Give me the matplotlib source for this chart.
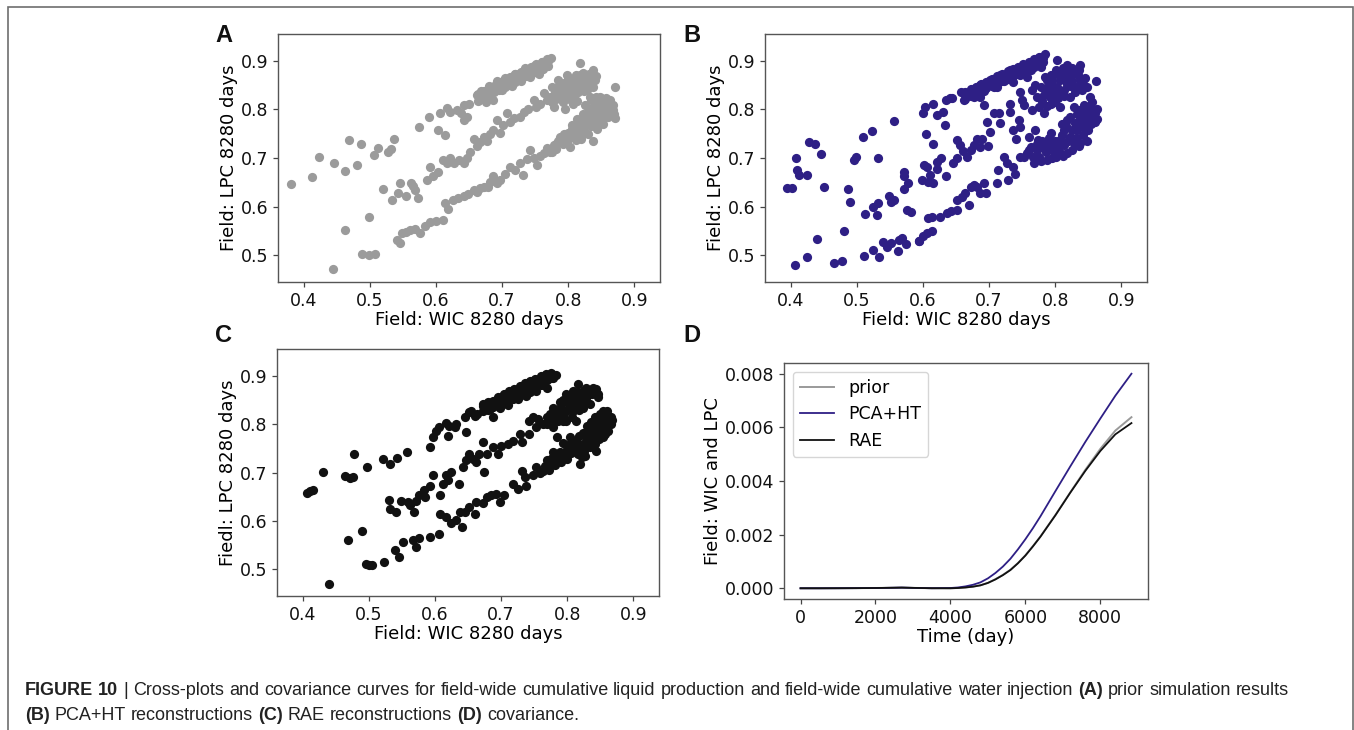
import matplotlib
matplotlib.use('Agg')
import matplotlib.pyplot as plt
from matplotlib.patches import Rectangle

plt.rcParams['font.family'] = ['DejaVu Sans']

# ---------------- data ----------------
A_points = [
    # isolated / left
    (0.380,0.646),(0.412,0.660),(0.423,0.703),(0.446,0.689),(0.463,0.674),(0.468,0.736),
    (0.480,0.686),(0.486,0.729),(0.506,0.706),(0.513,0.720),(0.528,0.712),(0.532,0.718),
    (0.537,0.740),(0.520,0.636),(0.534,0.614),(0.542,0.627),(0.546,0.648),(0.554,0.621),
    (0.562,0.648),(0.569,0.634),(0.573,0.617),(0.566,0.643),(0.463,0.552),(0.498,0.579),
    (0.444,0.471),(0.488,0.502),(0.498,0.500),(0.508,0.503),
    # upper arm
    (0.575,0.763),(0.590,0.785),(0.603,0.758),(0.606,0.792),(0.613,0.748),(0.616,0.802),
    (0.622,0.795),(0.632,0.799),(0.638,0.792),(0.642,0.809),(0.642,0.778),(0.647,0.785),
    (0.650,0.812),(0.662,0.829),(0.665,0.820),(0.670,0.832),(0.674,0.825),(0.678,0.840),
    (0.682,0.835),(0.686,0.846),(0.690,0.840),(0.694,0.852),(0.698,0.846),(0.702,0.858),
    (0.706,0.850),(0.710,0.862),(0.714,0.856),(0.718,0.866),(0.722,0.860),(0.726,0.872),
    (0.730,0.866),(0.734,0.876),(0.738,0.870),(0.742,0.880),(0.746,0.875),(0.750,0.886),
    (0.754,0.879),(0.758,0.890),(0.762,0.884),(0.766,0.896),(0.770,0.900),(0.774,0.905),
    (0.770,0.890),(0.760,0.898),(0.748,0.890),(0.735,0.885),(0.720,0.872),(0.705,0.865),
    (0.692,0.858),(0.680,0.848),(0.668,0.838),(0.700,0.840),(0.715,0.848),(0.728,0.858),
    (0.742,0.866),(0.756,0.872),(0.687,0.819),(0.675,0.815),
    (0.664,0.818),(0.664,0.832),(0.672,0.824),(0.672,0.838),(0.680,0.829),(0.680,0.843),
    (0.688,0.835),(0.688,0.849),(0.696,0.840),(0.696,0.855),(0.704,0.846),(0.704,0.861),
    (0.712,0.851),(0.712,0.866),(0.720,0.857),(0.720,0.872),(0.728,0.862),(0.728,0.877),
    (0.736,0.868),(0.736,0.883),(0.744,0.873),(0.744,0.888),(0.752,0.879),(0.752,0.893),
    (0.760,0.884),(0.760,0.898),(0.768,0.889),(0.768,0.903),
    # middle arm
    (0.586,0.655),(0.591,0.682),(0.596,0.662),(0.603,0.672),(0.611,0.696),(0.617,0.690),
    (0.622,0.700),(0.627,0.689),(0.635,0.695),(0.642,0.690),(0.647,0.699),(0.652,0.712),
    (0.657,0.740),(0.662,0.725),(0.667,0.732),(0.672,0.744),(0.677,0.735),(0.682,0.750),
    (0.687,0.758),(0.692,0.778),(0.697,0.752),(0.702,0.768),(0.707,0.792),(0.712,0.775),
    (0.718,0.782),(0.727,0.785),(0.733,0.795),(0.740,0.800),(0.748,0.819),(0.752,0.805),
    (0.758,0.812),(0.763,0.833),(0.768,0.820),(0.773,0.826),(0.778,0.805),(0.780,0.835),
    (0.785,0.845),(0.788,0.828),(0.790,0.855),(0.792,0.815),(0.795,0.838),(0.798,0.871),
    (0.800,0.850),(0.803,0.830),(0.805,0.862),(0.808,0.812),(0.810,0.845),(0.812,0.870),
    (0.813,0.853),(0.815,0.835),(0.818,0.895),(0.818,0.860),(0.820,0.845),(0.823,0.874),
    (0.825,0.855),(0.828,0.840),(0.830,0.866),(0.833,0.826),(0.835,0.852),(0.838,0.881),
    (0.840,0.860),(0.785,0.860),(0.795,0.800),(0.775,0.845),
    (0.776,0.815),(0.782,0.822),(0.788,0.838),(0.794,0.828),(0.796,0.848),(0.802,0.840),
    (0.804,0.820),(0.806,0.855),(0.810,0.832),(0.812,0.860),(0.816,0.848),(0.818,0.870),
    (0.822,0.856),(0.824,0.838),(0.826,0.866),(0.830,0.850),(0.832,0.872),(0.836,0.860),
    (0.838,0.845),(0.842,0.868),(0.800,0.862),(0.790,0.845),(0.784,0.832),(0.814,0.818),
    # lower arm
    (0.541,0.531),(0.545,0.526),(0.548,0.545),(0.555,0.548),(0.561,0.552),(0.568,0.555),
    (0.576,0.545),(0.583,0.560),(0.591,0.569),(0.600,0.570),(0.611,0.573),(0.614,0.607),
    (0.618,0.595),(0.626,0.614),(0.634,0.618),(0.642,0.621),(0.648,0.625),(0.657,0.634),
    (0.662,0.630),(0.667,0.638),(0.672,0.641),(0.678,0.640),(0.682,0.650),(0.687,0.662),
    (0.692,0.648),(0.697,0.655),(0.705,0.668),(0.712,0.682),(0.720,0.675),(0.727,0.689),
    (0.732,0.665),(0.738,0.698),(0.743,0.716),(0.748,0.700),(0.753,0.686),(0.758,0.705),
    (0.763,0.710),(0.768,0.720),(0.772,0.712),(0.778,0.727),(0.782,0.718),(0.785,0.735),
    (0.788,0.744),(0.792,0.728),(0.796,0.740),(0.800,0.752),(0.803,0.723),(0.806,0.760),
    (0.810,0.745),(0.813,0.751),(0.816,0.770),(0.818,0.758),(0.820,0.740),(0.823,0.778),
    (0.826,0.765),(0.828,0.790),(0.830,0.750),(0.833,0.775),(0.835,0.800),(0.838,0.799),
    (0.838,0.734),(0.840,0.785),(0.843,0.760),(0.845,0.805),(0.846,0.775),(0.848,0.812),
    (0.848,0.826),(0.850,0.790),(0.853,0.770),(0.855,0.800),(0.857,0.815),(0.860,0.785),
    (0.862,0.805),(0.864,0.819),(0.866,0.795),(0.868,0.810),(0.871,0.782),(0.871,0.847),
    (0.825,0.810),(0.835,0.820),(0.842,0.825),
    (0.776,0.712),(0.782,0.728),(0.790,0.735),(0.794,0.750),(0.798,0.730),(0.802,0.742),
    (0.806,0.768),(0.808,0.755),(0.812,0.738),(0.814,0.780),(0.818,0.765),(0.822,0.790),
    (0.824,0.752),(0.828,0.778),(0.832,0.800),(0.834,0.765),(0.836,0.788),(0.840,0.812),
    (0.842,0.795),(0.844,0.770),(0.846,0.818),(0.850,0.803),(0.852,0.782),(0.854,0.812),
    (0.856,0.792),(0.858,0.824),(0.860,0.800),(0.862,0.815),(0.864,0.790),(0.866,0.808),
    (0.868,0.798),(0.870,0.790),
]

B_points = [
    # left scattered
    (0.394,0.639),(0.402,0.639),(0.408,0.701),(0.409,0.675),(0.412,0.665),(0.425,0.665),
    (0.428,0.733),(0.437,0.728),(0.446,0.708),(0.450,0.640),(0.407,0.479),(0.424,0.497),
    (0.439,0.534),(0.465,0.484),(0.478,0.488),(0.481,0.549),(0.486,0.636),(0.490,0.610),
    (0.495,0.696),(0.498,0.703),(0.510,0.744),(0.523,0.755),(0.532,0.701),(0.556,0.776),
    (0.513,0.584),(0.525,0.600),(0.530,0.583),(0.532,0.607),(0.511,0.499),(0.525,0.511),
    (0.534,0.497),(0.540,0.528),(0.548,0.621),(0.552,0.610),(0.556,0.613),(0.545,0.518),
    (0.552,0.525),(0.563,0.532),(0.568,0.535),(0.562,0.508),(0.575,0.523),(0.572,0.662),
    (0.572,0.672),(0.571,0.636),(0.578,0.648),(0.576,0.593),(0.582,0.588),(0.594,0.529),
    # middle arm
    (0.598,0.655),(0.601,0.686),(0.606,0.682),(0.608,0.650),(0.611,0.665),(0.615,0.649),
    (0.621,0.677),(0.622,0.692),(0.628,0.701),(0.635,0.664),(0.646,0.689),(0.651,0.699),
    (0.652,0.738),(0.656,0.727),(0.661,0.714),(0.666,0.703),(0.672,0.716),(0.677,0.727),
    (0.682,0.740),(0.687,0.723),(0.689,0.740),(0.699,0.725),(0.697,0.775),(0.702,0.754),
    (0.707,0.792),(0.715,0.793),(0.717,0.771),(0.737,0.758),(0.741,0.740),(0.745,0.778),
    (0.747,0.764),(0.760,0.744),(0.770,0.758),(0.774,0.737),(0.732,0.812),(0.731,0.795),
    (0.753,0.809),(0.765,0.799),(0.605,0.749),(0.615,0.729),(0.634,0.767),(0.693,0.809),
    # upper arm
    (0.600,0.792),(0.603,0.804),(0.615,0.812),(0.622,0.788),(0.631,0.795),(0.635,0.819),
    (0.641,0.823),(0.644,0.823),(0.657,0.836),(0.662,0.819),(0.667,0.830),(0.672,0.836),
    (0.677,0.826),(0.682,0.842),(0.687,0.850),(0.687,0.826),(0.692,0.838),(0.697,0.853),
    (0.702,0.860),(0.707,0.845),(0.712,0.847),(0.712,0.862),(0.717,0.871),(0.722,0.858),
    (0.727,0.868),(0.732,0.881),(0.737,0.857),(0.737,0.872),(0.742,0.884),(0.747,0.888),
    (0.747,0.870),(0.752,0.878),(0.757,0.867),(0.757,0.890),(0.763,0.898),(0.763,0.880),
    (0.768,0.892),(0.773,0.903),(0.778,0.908),(0.778,0.888),(0.782,0.898),(0.785,0.914),
    (0.785,0.867),(0.747,0.836),(0.765,0.840),(0.750,0.819),(0.770,0.850),
    (0.664,0.822),(0.664,0.836),(0.672,0.828),(0.672,0.842),(0.680,0.832),(0.680,0.846),
    (0.688,0.838),(0.688,0.852),(0.696,0.843),(0.696,0.857),(0.704,0.848),(0.704,0.862),
    (0.712,0.853),(0.712,0.868),(0.720,0.858),(0.720,0.873),(0.728,0.863),(0.728,0.878),
    (0.736,0.868),(0.736,0.883),(0.744,0.873),(0.744,0.888),(0.752,0.878),(0.752,0.893),
    (0.760,0.884),(0.760,0.898),(0.768,0.888),(0.768,0.903),(0.776,0.895),(0.776,0.908),
    (0.782,0.905),
    # middle arm top cluster
    (0.803,0.901),(0.818,0.891),(0.838,0.892),(0.801,0.881),(0.788,0.860),(0.778,0.847),
    (0.773,0.826),(0.775,0.805),(0.783,0.792),(0.793,0.812),(0.808,0.805),(0.823,0.826),
    (0.833,0.847),(0.838,0.860),(0.813,0.871),(0.823,0.867),(0.803,0.847),(0.793,0.840),
    (0.808,0.860),(0.828,0.874),(0.798,0.828),(0.813,0.840),(0.818,0.852),(0.828,0.845),
    (0.783,0.830),(0.793,0.870),(0.812,0.885),(0.826,0.885),(0.805,0.823),(0.790,0.850),
    (0.780,0.818),(0.786,0.840),(0.792,0.826),(0.796,0.858),(0.800,0.872),(0.806,0.838),
    (0.810,0.875),(0.814,0.828),(0.816,0.862),(0.820,0.880),(0.822,0.848),(0.826,0.858),
    (0.830,0.835),(0.834,0.870),(0.836,0.880),(0.842,0.852),(0.845,0.865),(0.800,0.815),
    (0.788,0.806),
    # lower arm
    (0.594,0.529),(0.600,0.540),(0.606,0.545),(0.607,0.576),(0.613,0.579),(0.614,0.549),
    (0.626,0.579),(0.636,0.586),(0.643,0.590),(0.651,0.593),(0.651,0.613),(0.659,0.620),
    (0.664,0.627),(0.669,0.603),(0.672,0.641),(0.677,0.645),(0.682,0.641),(0.687,0.627),
    (0.692,0.648),(0.696,0.627),(0.712,0.648),(0.713,0.675),(0.722,0.703),(0.727,0.689),
    (0.729,0.655),(0.737,0.682),(0.740,0.668),(0.747,0.703),(0.753,0.703),(0.761,0.716),
    (0.758,0.710),(0.768,0.689),(0.775,0.703),(0.783,0.720),(0.788,0.730),(0.793,0.751),
    (0.801,0.703),(0.803,0.723),(0.813,0.758),(0.818,0.778),(0.823,0.744),(0.828,0.730),
    (0.833,0.758),(0.838,0.778),(0.843,0.792),(0.848,0.805),(0.853,0.826),(0.858,0.785),
    (0.863,0.781),(0.862,0.858),(0.838,0.730),(0.846,0.758),(0.851,0.771),(0.858,0.799),
    (0.841,0.840),(0.848,0.847),(0.828,0.805),(0.818,0.710),(0.808,0.737),(0.788,0.696),
    (0.773,0.716),(0.763,0.723),(0.798,0.712),(0.810,0.770),(0.833,0.790),(0.853,0.790),
    (0.766,0.702),(0.772,0.728),(0.778,0.694),(0.780,0.735),(0.786,0.712),(0.790,0.742),
    (0.794,0.722),(0.796,0.700),(0.800,0.735),(0.806,0.715),(0.810,0.748),(0.814,0.726),
    (0.816,0.765),(0.820,0.735),(0.822,0.785),(0.826,0.758),(0.830,0.772),(0.832,0.742),
    (0.836,0.798),(0.840,0.765),(0.842,0.748),(0.844,0.810),(0.846,0.780),(0.850,0.758),
    (0.852,0.805),(0.855,0.770),(0.856,0.815),(0.860,0.792),(0.860,0.775),(0.864,0.800),
    (0.848,0.735),(0.836,0.725),(0.826,0.716),(0.812,0.705),
]

C_points = [
    # left scattered
    (0.406,0.658),(0.411,0.662),(0.416,0.663),(0.431,0.702),(0.464,0.692),(0.472,0.689),
    (0.476,0.690),(0.477,0.738),(0.497,0.711),(0.468,0.560),(0.489,0.579),(0.439,0.469),
    (0.496,0.512),(0.500,0.509),(0.504,0.508),(0.523,0.516),(0.522,0.728),(0.532,0.718),
    (0.542,0.730),(0.558,0.743),(0.530,0.644),(0.532,0.625),(0.541,0.618),(0.549,0.642),
    (0.559,0.639),(0.562,0.632),(0.569,0.618),(0.571,0.642),(0.576,0.653),(0.584,0.663),
    (0.585,0.649),(0.592,0.673),
    # middle arm
    (0.597,0.694),(0.607,0.653),(0.612,0.677),(0.617,0.694),(0.619,0.684),(0.624,0.701),
    (0.637,0.677),(0.642,0.711),(0.647,0.725),(0.652,0.738),(0.657,0.728),(0.662,0.721),
    (0.667,0.738),(0.674,0.702),(0.672,0.762),(0.679,0.738),(0.688,0.752),(0.695,0.738),
    (0.700,0.755),(0.710,0.759),(0.718,0.766),(0.728,0.779),(0.731,0.762),(0.743,0.807),
    (0.743,0.779),(0.748,0.814),(0.753,0.793),(0.756,0.810),(0.763,0.800),(0.769,0.814),
    (0.779,0.834),(0.785,0.774),(0.789,0.845),(0.794,0.807),(0.799,0.862),(0.804,0.848),
    (0.809,0.868),(0.814,0.855),(0.819,0.841),(0.824,0.862),(0.829,0.875),(0.834,0.865),
    (0.839,0.875),(0.844,0.872),(0.847,0.856),(0.829,0.848),(0.799,0.827),(0.794,0.815),
    (0.809,0.827),(0.784,0.814),(0.774,0.821),(0.779,0.793),(0.769,0.800),(0.816,0.883),
    (0.789,0.824),(0.814,0.807),(0.799,0.807),(0.824,0.834),(0.804,0.838),(0.819,0.858),
    (0.778,0.810),(0.784,0.828),(0.790,0.836),(0.796,0.822),(0.800,0.845),(0.806,0.856),
    (0.808,0.815),(0.812,0.842),(0.816,0.866),(0.818,0.830),(0.822,0.850),(0.826,0.870),
    (0.830,0.858),(0.834,0.842),(0.838,0.862),(0.842,0.868),(0.846,0.862),(0.794,0.850),
    (0.786,0.806),
    # upper arm
    (0.592,0.752),(0.597,0.773),(0.602,0.786),(0.606,0.793),(0.617,0.803),(0.619,0.775),
    (0.622,0.797),(0.630,0.793),(0.632,0.800),(0.647,0.783),(0.645,0.814),(0.651,0.824),
    (0.655,0.827),(0.660,0.817),(0.672,0.838),(0.683,0.831),(0.688,0.814),(0.688,0.848),
    (0.678,0.835),(0.693,0.845),(0.698,0.834),(0.703,0.858),(0.708,0.850),(0.713,0.862),
    (0.718,0.869),(0.718,0.851),(0.723,0.862),(0.728,0.872),(0.733,0.879),(0.733,0.865),
    (0.738,0.858),(0.740,0.874),(0.745,0.884),(0.748,0.889),(0.750,0.872),(0.753,0.869),
    (0.756,0.885),(0.760,0.892),(0.764,0.895),(0.765,0.880),(0.769,0.875),(0.770,0.890),
    (0.774,0.902),(0.778,0.896),(0.783,0.901),(0.776,0.906),(0.760,0.880),(0.744,0.866),
    (0.700,0.842),(0.710,0.840),(0.725,0.852),
    (0.664,0.820),(0.672,0.826),(0.672,0.842),(0.680,0.830),(0.680,0.846),(0.688,0.836),
    (0.696,0.842),(0.696,0.856),(0.704,0.846),(0.704,0.862),(0.712,0.852),(0.712,0.868),
    (0.720,0.857),(0.720,0.873),(0.728,0.862),(0.728,0.878),(0.736,0.868),(0.736,0.884),
    (0.744,0.874),(0.744,0.888),(0.752,0.880),(0.752,0.893),(0.760,0.886),(0.760,0.899),
    (0.768,0.890),(0.768,0.903),(0.776,0.895),
    # lower arm
    (0.540,0.540),(0.546,0.526),(0.551,0.557),(0.567,0.560),(0.571,0.547),(0.576,0.564),
    (0.592,0.567),(0.606,0.574),(0.607,0.615),(0.617,0.608),(0.624,0.595),(0.632,0.601),
    (0.638,0.618),(0.641,0.588),(0.646,0.618),(0.651,0.629),(0.660,0.615),(0.662,0.639),
    (0.673,0.636),(0.678,0.649),(0.685,0.653),(0.693,0.656),(0.698,0.639),(0.705,0.653),
    (0.718,0.677),(0.725,0.666),(0.732,0.704),(0.736,0.690),(0.738,0.673),(0.748,0.694),
    (0.753,0.711),(0.763,0.704),(0.774,0.718),(0.784,0.725),(0.794,0.731),(0.799,0.745),
    (0.809,0.752),(0.819,0.718),(0.817,0.738),(0.824,0.759),(0.829,0.773),(0.834,0.786),
    (0.839,0.793),(0.844,0.807),(0.849,0.821),(0.854,0.827),(0.860,0.827),(0.864,0.807),
    (0.862,0.786),(0.844,0.745),(0.834,0.752),(0.854,0.773),(0.839,0.766),(0.857,0.800),
    (0.849,0.786),(0.814,0.766),(0.804,0.773),(0.789,0.742),(0.779,0.742),(0.779,0.732),
    (0.827,0.735),(0.822,0.732),(0.769,0.725),(0.759,0.700),(0.794,0.760),(0.844,0.780),
    (0.766,0.714),(0.772,0.705),(0.776,0.728),(0.782,0.716),(0.786,0.734),(0.790,0.722),
    (0.796,0.738),(0.800,0.728),(0.802,0.756),(0.806,0.740),(0.810,0.762),(0.814,0.748),
    (0.818,0.775),(0.820,0.755),(0.824,0.782),(0.826,0.745),(0.830,0.795),(0.832,0.762),
    (0.836,0.805),(0.838,0.780),(0.842,0.758),(0.842,0.815),(0.846,0.795),(0.848,0.770),
    (0.850,0.808),(0.852,0.785),(0.856,0.818),(0.858,0.780),(0.860,0.810),(0.862,0.798),
    (0.866,0.815),(0.866,0.800),(0.868,0.808),
]

t_days = [0, 500, 1000, 1500, 2000, 2500, 2700, 3000, 3500, 4000, 4200, 4400, 4600,
          4800, 5000, 5200, 5400, 5600, 5800, 6000, 6200, 6400, 6800, 7200, 7600,
          8000, 8400, 8830]
cov_prior = [0, 0, 0.000002, 0.000005, 0.00001, 0.00002, 0.000025, 0.000015, 0.000002,
             0.0, 0.00001, 0.00003, 0.00006, 0.00011, 0.00020, 0.00034, 0.00050,
             0.00069, 0.00094, 0.00123, 0.00157, 0.00193, 0.00273, 0.00358, 0.00442,
             0.00520, 0.00588, 0.00638]
cov_pca = [0, 0, 0.000002, 0.000005, 0.00001, 0.00002, 0.000025, 0.000015, 0.000002,
           0.00001, 0.00003, 0.00007, 0.00013, 0.00022, 0.00037, 0.00057, 0.00081,
           0.00110, 0.00145, 0.00183, 0.00224, 0.00268, 0.00362, 0.00455, 0.00546,
           0.00633, 0.00718, 0.00800]
cov_rae = [0, 0, 0.000002, 0.000005, 0.00001, 0.00002, 0.000025, 0.000015, 0.000002,
           0.0, 0.00001, 0.00003, 0.00006, 0.00011, 0.00020, 0.00033, 0.00049,
           0.00068, 0.00093, 0.00122, 0.00156, 0.00192, 0.00272, 0.00357, 0.00438,
           0.00512, 0.00574, 0.00616]

series_labels = ['prior', 'PCA+HT', 'RAE']
panel_letters = ['A', 'B', 'C', 'D']
scatter_xticks = [0.4, 0.5, 0.6, 0.7, 0.8, 0.9]
scatter_yticks = [0.5, 0.6, 0.7, 0.8, 0.9]
cov_xticks = [0, 2000, 4000, 6000, 8000]
cov_yticks = [0.000, 0.002, 0.004, 0.006, 0.008]

GREY = '#9b9b9b'
INDIGO = '#2e1f85'
BLACK = '#111111'

# ---------------- figure ----------------
W, H = 1354, 730
fig = plt.figure(figsize=(W / 100, H / 100), dpi=100)

def ax_at(l, t, r, b):
    return fig.add_axes([l / W, 1 - b / H, (r - l) / W, (b - t) / H])

FS = 12.5

def style(ax):
    for s in ax.spines.values():
        s.set_color('#555555')
        s.set_linewidth(1.0)
    ax.tick_params(labelsize=FS, color='#444444', length=3.5, width=0.9, labelcolor='#111111')

axA = ax_at(278, 34, 660, 282)
axB = ax_at(765, 34, 1147, 282)
axC = ax_at(277, 349, 659, 596)
axD = ax_at(784, 363, 1148, 599)

for ax, pts, col, ylab in [(axA, A_points, GREY, 'Field: LPC 8280 days'),
                           (axB, B_points, INDIGO, 'Field: LPC 8280 days'),
                           (axC, C_points, BLACK, 'Fiedl: LPC 8280 days')]:
    xs = [p[0] for p in pts]
    ys = [p[1] for p in pts]
    ax.scatter(xs, ys, s=44, c=col, linewidths=0)
    ax.set_xlim(0.361, 0.939)
    ax.set_ylim(0.445, 0.955)
    ax.set_xticks(scatter_xticks)
    ax.set_yticks(scatter_yticks)
    ax.set_xticklabels([f'{v:.1f}' for v in scatter_xticks])
    ax.set_yticklabels([f'{v:.1f}' for v in scatter_yticks])
    ax.set_xlabel('Field: WIC 8280 days', fontsize=FS + 0.5, labelpad=1)
    ax.set_ylabel(ylab, fontsize=FS + 0.5, labelpad=2)
    style(ax)

axD.plot(t_days, cov_prior, color='#9a9a9a', lw=1.4, label=series_labels[0])
axD.plot(t_days, cov_pca, color=INDIGO, lw=1.3, label=series_labels[1])
axD.plot(t_days, cov_rae, color=BLACK, lw=1.3, label=series_labels[2])
axD.set_xticks(cov_xticks)
axD.set_yticks(cov_yticks)
axD.set_yticklabels([f'{v:.3f}' for v in cov_yticks])
axD.set_xlabel('Time (day)', fontsize=FS + 0.5, labelpad=1)
axD.set_ylabel('Field: WIC and LPC', fontsize=FS + 0.5, labelpad=2)
axD.legend(loc='upper left', fontsize=FS)
style(axD)

# panel letters
for letter, (px, py) in zip(panel_letters, [(215, 42), (683, 42), (215, 342), (683, 342)]):
    fig.text(px / W, 1 - py / H, letter, fontsize=17, fontweight='bold',
             family='Liberation Sans', va='baseline', ha='left', color='#111111')

# border
fig.add_artist(Rectangle((8 / W, -0.05), (1353 - 8) / W, 1.05 - 7 / H,
                         transform=fig.transFigure, fill=False,
                         edgecolor='#6e6e6e', lw=1.2, clip_on=False))

# caption
line1 = [('FIGURE 10', 'bold'), ('|', 'normal'),
         ('Cross-plots and covariance curves for field-wide cumulative liquid production and field-wide cumulative water injection', 'normal'),
         ('(A)', 'bold'), ('prior simulation results', 'normal')]
line2 = [('(B)', 'bold'), ('PCA+HT reconstructions', 'normal'), ('(C)', 'bold'),
         ('RAE reconstructions', 'normal'), ('(D)', 'bold'), ('covariance.', 'normal')]

renderer = fig.canvas.get_renderer()
CAP = 13.0

def rich_line(pieces, x0, ybase, size, x1=None):
    words = []
    for txt, w in pieces:
        for word in txt.split(' '):
            t = fig.text(0, 1 - ybase / H, word, fontsize=size, fontweight=w,
                         family='Liberation Sans', va='baseline', ha='left', color='#222222')
            words.append((t, t.get_window_extent(renderer).width))
    total = sum(wd for _, wd in words)
    space = 0.278 * size * 100 / 72
    gap = space
    if x1 is not None:
        gap = max(space, (x1 - x0 - total) / (len(words) - 1))
    x = x0
    for t, wd in words:
        t.set_x(x / W)
        x += wd + gap
    return gap

g1 = rich_line(line1, 25, 695, CAP, x1=1280)
rich_line(line2, 25, 720, CAP)

fig.savefig('out.png', dpi=100)
